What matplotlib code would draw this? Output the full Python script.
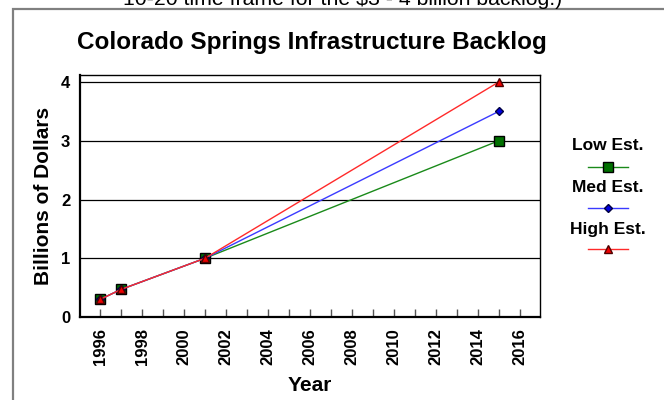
import matplotlib
matplotlib.use('Agg')
import matplotlib.pyplot as plt
from matplotlib.lines import Line2D
from matplotlib.patches import Rectangle
from matplotlib.ticker import MultipleLocator

plt.rcParams['font.family'] = ['Liberation Sans', 'DejaVu Sans']

# backlog estimates, billions of dollars
years = [1996, 1997, 2001, 2015]
low_est = [0.3, 0.47, 1.0, 3.0]
med_est = [0.3, 0.47, 1.0, 3.5]
high_est = [0.3, 0.47, 1.0, 4.0]

series = [
    ('Low Est.', low_est, '#1a8a1a', dict(marker='s', ms=6.5, mfc='#007000', mec='black')),
    ('Med Est.', med_est, '#3a3aff', dict(marker='D', ms=4.5, mfc='#0000e0', mec='#000040')),
    ('High Est.', high_est, '#ff2a2a', dict(marker='^', ms=6, mfc='#ee0000', mec='#500000')),
]

W, H = 664, 400
fig = plt.figure(figsize=(W / 100, H / 100), dpi=100)

# gray page frame and the caption running off the top
fig.add_artist(Rectangle((13 / W, -0.2), 1.0, 1.2 - 9 / H, transform=fig.transFigure,
                         fill=False, edgecolor='#808080', lw=1.6))
fig.text(343 / W, 1 - 5 / H, '10-20 time frame for the $3 - 4 billion backlog.)',
         ha='center', va='baseline', fontsize=15.3)

ax = fig.add_axes([80 / W, 83 / H, 460 / W, 242 / H])

for name, vals, col, mk in series:
    ax.plot(years, vals, color=col, lw=1.0, **mk)

ax.set_xlim(1995.04, 2016.97)
ax.set_ylim(0, 4.12)
ax.xaxis.set_major_locator(MultipleLocator(2))
ax.xaxis.set_minor_locator(MultipleLocator(1))
ax.set_yticks([0, 1, 2, 3, 4])
ax.yaxis.grid(True, color='black', lw=0.9)
ax.set_axisbelow(True)

ax.tick_params(axis='x', which='both', direction='in', length=6, width=1,
               color='#555555', pad=8, labelsize=12, labelrotation=90)
ax.tick_params(axis='y', length=0, pad=7, labelsize=12)
for lab in ax.get_xticklabels() + ax.get_yticklabels():
    lab.set_fontweight('bold')

for side in ['left', 'bottom']:
    ax.spines[side].set_linewidth(1.6)
for side in ['top', 'right']:
    ax.spines[side].set_linewidth(1.0)

ax.set_xlabel('Year', fontsize=15, fontweight='bold', labelpad=8)
ax.set_ylabel('Billions of Dollars', fontsize=15, fontweight='bold', labelpad=6)

fig.text(312 / W, 1 - 42 / H, 'Colorado Springs Infrastructure Backlog',
         ha='center', va='center', fontsize=17.5, fontweight='bold')

# legend: label above each line sample
label_y = [146, 188, 230]
line_y = [167, 208, 249]
for (name, vals, col, mk), ty, ly in zip(series, label_y, line_y):
    fig.text(608 / W, 1 - ty / H, name, ha='center', va='center',
             fontsize=12.5, fontweight='bold')
    fig.add_artist(Line2D([588 / W, 628 / W], [1 - ly / H] * 2, transform=fig.transFigure,
                          color=col, lw=1.0))
    fig.add_artist(Line2D([608 / W], [1 - ly / H], transform=fig.transFigure,
                          ls='none', **mk))

fig.savefig('out.png', dpi=100)
